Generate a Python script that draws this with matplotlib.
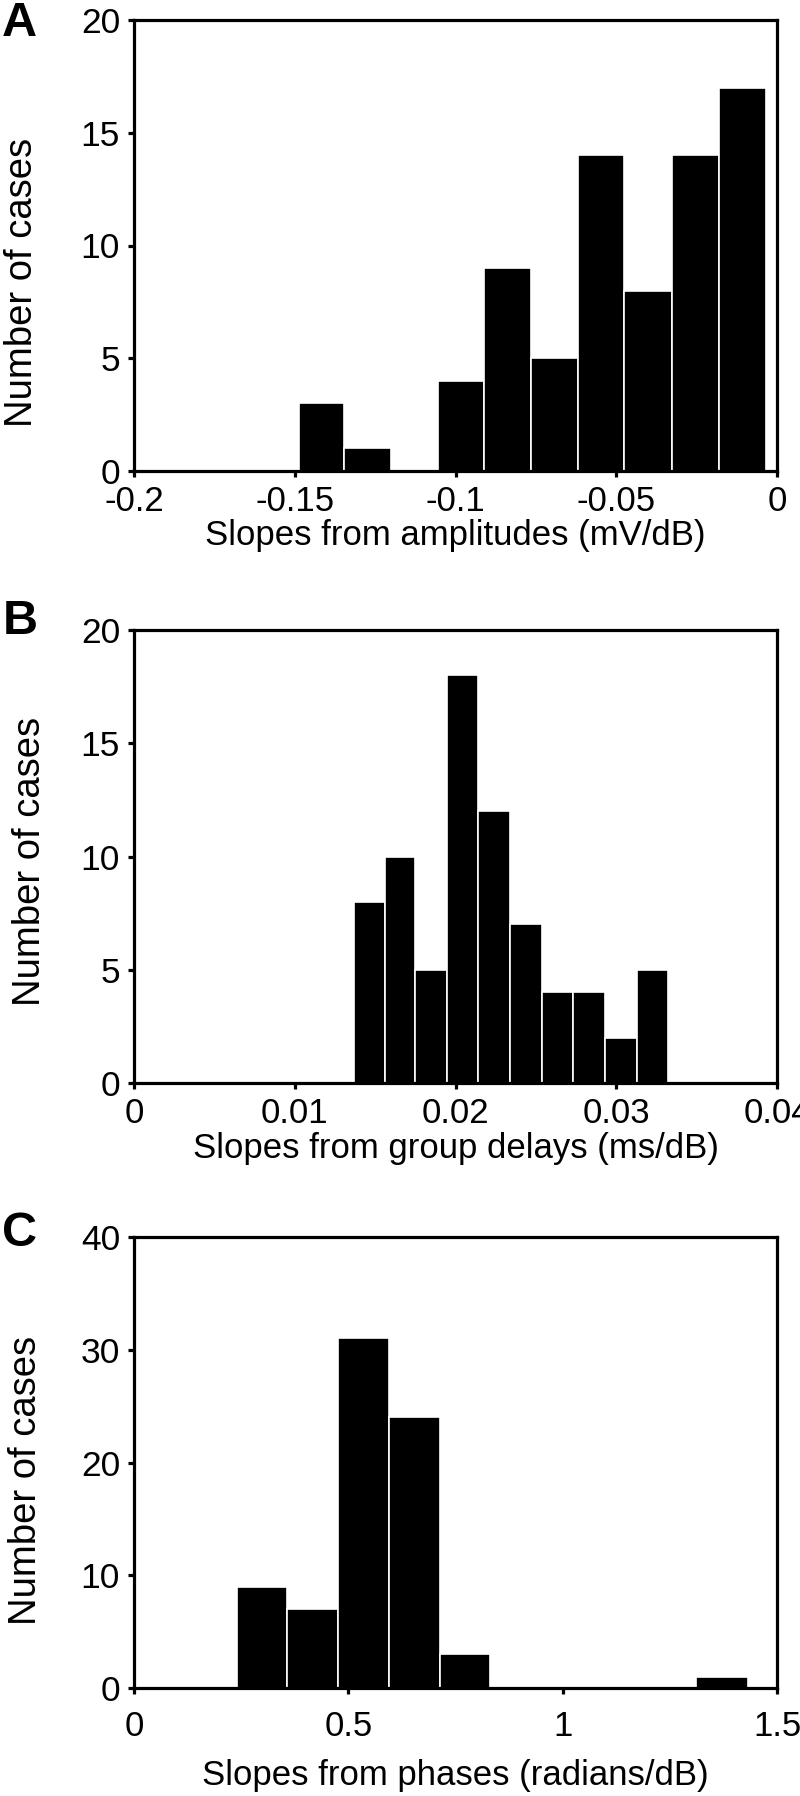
import numpy as np
import matplotlib
matplotlib.use("Agg")
import matplotlib.pyplot as plt

plt.rcParams['font.family'] = ['Liberation Sans', 'DejaVu Sans']
plt.rcParams['axes.unicode_minus'] = False

# panel A - slopes from amplitudes
edges_a = [-0.1486, -0.1347, -0.1202, -0.1054, -0.0911, -0.0764,
           -0.0618, -0.0475, -0.0326, -0.0180, -0.0035]
counts_a = [3, 1, 0, 4, 9, 5, 14, 8, 14, 17]
xticks_a = [-0.2, -0.15, -0.1, -0.05, 0]
xlabels_a = ['-0.2', '-0.15', '-0.1', '-0.05', '0']

# panel B - slopes from group delays
edges_b = [0.0137, 0.0156, 0.0175, 0.0195, 0.0214, 0.0234,
           0.0254, 0.0273, 0.0293, 0.0313, 0.0332]
counts_b = [8, 10, 5, 18, 12, 7, 4, 4, 2, 5]
xticks_b = [0, 0.01, 0.02, 0.03, 0.04]
xlabels_b = ['0', '0.01', '0.02', '0.03', '0.04']

# panel C - slopes from phases
edges_c = [0.240, 0.357, 0.476, 0.594, 0.713, 0.831,
           0.950, 1.070, 1.190, 1.311, 1.433]
counts_c = [9, 7, 31, 24, 3, 0, 0, 0, 0, 1]
xticks_c = [0, 0.5, 1, 1.5]
xlabels_c = ['0', '0.5', '1', '1.5']

W, H = 800, 1796
fig = plt.figure(figsize=(W / 100, H / 100), dpi=100)
narrow = ['Liberation Sans Narrow', 'Liberation Sans', 'DejaVu Sans']
regular = ['Liberation Sans', 'DejaVu Sans']


def panel(top, bottom, edges, counts, xticks, xlabels, ymax, ystep,
          xlabel, letter, ylab_xy, xlab_y, letter_xy, tickpad):
    ax = fig.add_axes([134 / W, 1 - bottom / H, 643 / W, (bottom - top) / H])
    e = np.array(edges)
    ax.bar(e[:-1], counts, width=np.diff(e), align='edge',
           color='black', edgecolor='white', linewidth=1.2, zorder=2)
    ax.set_xlim(xticks[0], xticks[-1])
    ax.set_ylim(0, ymax)
    ax.set_xticks(xticks)
    ax.set_xticklabels(xlabels, family=narrow, fontsize=25)
    yt = np.arange(0, ymax + 1, ystep)
    ax.set_yticks(yt)
    ax.set_yticklabels([str(v) for v in yt], family=narrow, fontsize=25.5)
    for s in ax.spines.values():
        s.set_linewidth(2.3)
        s.set_zorder(3)
    ax.tick_params(direction='out', length=4, width=2.3,
                   top=False, right=False)
    ax.tick_params(axis='x', pad=tickpad)
    ax.tick_params(axis='y', pad=6)
    ax.set_xlabel(xlabel, fontsize=25, family=regular, va='center')
    ax.xaxis.set_label_coords(0.5, xlab_y)
    ax.set_ylabel('Number of cases', fontsize=27.5, family=regular,
                  va='center')
    ax.yaxis.set_label_coords(*ylab_xy)
    fig.text(letter_xy[0] / W, 1 - letter_xy[1] / H, letter, fontsize=35,
             fontweight='bold', family=regular, ha='center', va='center')
    return ax


panel(20, 471, edges_a, counts_a, xticks_a, xlabels_a, 20, 5,
      'Slopes from amplitudes (mV/dB)', 'A', (-0.174, 0.419), -0.143,
      (19, 23), 6)
panel(630, 1083, edges_b, counts_b, xticks_b, xlabels_b, 20, 5,
      'Slopes from group delays (ms/dB)', 'B', (-0.162, 0.488), -0.145,
      (20, 621), 6)
panel(1237, 1688, edges_c, counts_c, xticks_c, xlabels_c, 40, 10,
      'Slopes from phases (radians/dB)', 'C', (-0.168, 0.461), -0.195,
      (20, 1233), 12)

fig.savefig('out.png', dpi=100)
